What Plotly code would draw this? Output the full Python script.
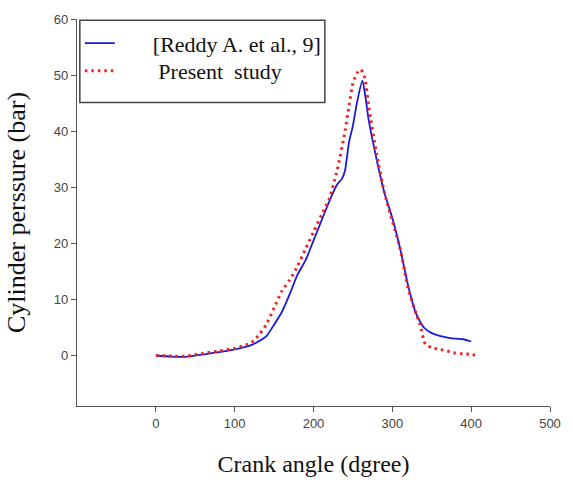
import plotly.graph_objects as go

reddy_x = [0, 20, 40, 60, 80, 100, 110, 120, 130, 140, 150, 160, 170, 180, 190, 200, 210, 220, 230, 236, 240, 245, 250, 255, 262, 266, 270, 280, 290, 300, 310, 320, 330, 340, 350, 360, 370, 380, 390, 400]
reddy_y = [0, -0.2, -0.2, 0.2, 0.6, 1.1, 1.4, 1.8, 2.5, 3.4, 5.5, 7.8, 11, 14.5, 17, 20.5, 24, 27.5, 30.5, 31.5, 33, 38, 41, 45, 49, 46, 42, 35, 29, 24.5, 19, 12.5, 7.5, 5, 4, 3.5, 3.2, 3, 2.9, 2.5]

present_x = [0, 20, 40, 60, 80, 100, 110, 120, 130, 140, 150, 160, 170, 180, 190, 200, 210, 220, 230, 240, 245, 250, 255, 260, 265, 270, 280, 290, 300, 310, 320, 330, 335, 342, 350, 360, 370, 380, 390, 400, 410]
present_y = [0, -0.1, -0.1, 0.4, 0.8, 1.3, 1.7, 2.2, 3.5, 5.5, 8.5, 11.5, 13.5, 16, 19, 22, 25, 28, 33, 40, 44.5, 48.5, 50.3, 51, 49.5, 44.5, 36, 29, 24, 19, 12, 7.5, 5.6, 2, 1.4, 1.1, 0.8, 0.4, 0.3, 0.2, -0.1]

x_ticks = [0, 100, 200, 300, 400, 500]
y_ticks = [0, 10, 20, 30, 40, 50, 60]

NB = "\u00a0"
serif = "Liberation Serif, Times New Roman, serif"

fig = go.Figure()
fig.add_trace(go.Scatter(x=reddy_x, y=reddy_y, mode="lines", name=NB * 6 + "[Reddy A. et al., 9]",
                         legend="legend",
                         line=dict(color="#1a1adb", width=1.8, shape="spline", smoothing=0.6)))
fig.add_trace(go.Scatter(x=present_x, y=present_y, mode="lines", name=NB * 7 + "Present" + NB * 2 + "study",
                         legend="legend2",
                         line=dict(color="#ee2222", width=3, dash="2.5px,4px", shape="spline", smoothing=0.6)))

axis_common = dict(showgrid=False, zeroline=False, showline=True, linecolor="#555555", linewidth=1.2,
                   ticks="outside", ticklen=5, tickcolor="#555555",
                   tickfont=dict(family="Liberation Sans, Arial, sans-serif", size=13, color="#444444"))

leg_common = dict(x=0.006, xanchor="left", yanchor="middle", bgcolor="rgba(0,0,0,0)", borderwidth=0,
                  font=dict(family=serif, size=22, color="#111111"))

fig.update_layout(
    width=573, height=485,
    margin=dict(l=77, r=13, t=15, b=77),
    paper_bgcolor="white", plot_bgcolor="white",
    xaxis=dict(range=[-100, 500], tickvals=x_ticks, **axis_common,
               title=dict(text="Crank angle (dgree)", standoff=25,
                          font=dict(family=serif, size=24, color="#111111"))),
    yaxis=dict(range=[-9, 60], tickvals=y_ticks, **axis_common,
               title=dict(text="Cylinder perssure (bar)", standoff=20,
                          font=dict(family=serif, size=26, color="#111111"))),
    legend=dict(y=0.937, **leg_common),
    legend2=dict(y=0.866, **leg_common),
    shapes=[dict(type="rect", xref="paper", yref="paper", x0=0.006, x1=0.524, y0=0.784, y1=0.997,
                 line=dict(color="#444444", width=1.5), fillcolor="rgba(0,0,0,0)", layer="above")],
    showlegend=True,
)

fig.write_html("out.html")
